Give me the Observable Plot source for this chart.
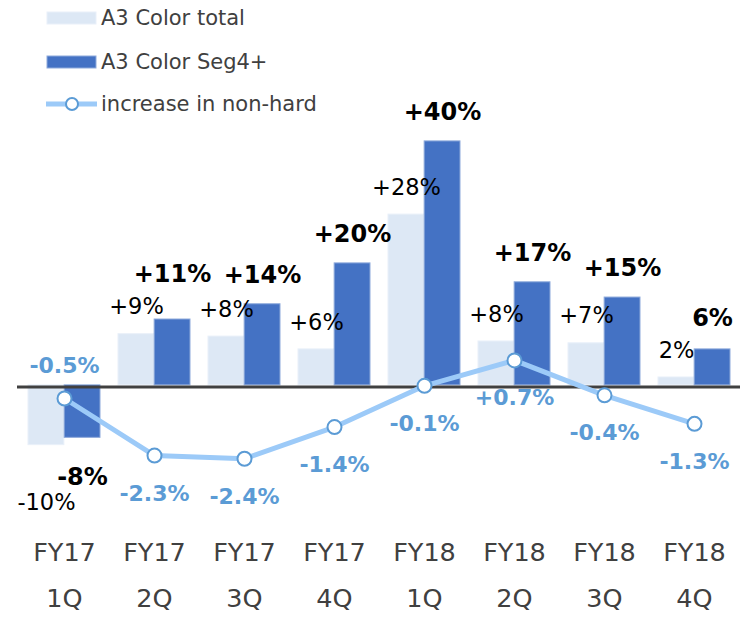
<!DOCTYPE html>
<html>
<head>
<meta charset="utf-8">
<script src="https://cdn.jsdelivr.net/npm/d3@7"></script>
<script src="https://cdn.jsdelivr.net/npm/@observablehq/plot@0.6"></script>
<style>
  body { margin: 0; background: #fff; }
  #wrap { position: relative; width: 756px; height: 617px; }
  #legend { position: absolute; left: 0; top: 0; font-family: "DejaVu Sans", sans-serif; font-size: 21px; color: #404040; }
  .item { position: absolute; left: 44px; height: 24px; display: flex; align-items: center; white-space: nowrap; }
  .item svg { margin-right: 4px; }
</style>
</head>
<body>
<div id="wrap">
  <div id="chart"></div>
  <div id="legend"></div>
</div>
<script>
const categories = ["FY17 1Q", "FY17 2Q", "FY17 3Q", "FY17 4Q", "FY18 1Q", "FY18 2Q", "FY18 3Q", "FY18 4Q"];
const tickLabels = ["FY17\n1Q", "FY17\n2Q", "FY17\n3Q", "FY17\n4Q", "FY18\n1Q", "FY18\n2Q", "FY18\n3Q", "FY18\n4Q"];
// bar heights; printed labels kept separately
const colorTotal = [-9.8, 8.4, 8.0, 5.9, 28.0, 7.2, 6.9, 1.3];
const colorTotalLabels = ["-10%", "+9%", "+8%", "+6%", "+28%", "+8%", "+7%", "2%"];
const seg4 = [-8.6, 10.8, 13.3, 20.0, 40.0, 16.9, 14.4, 5.9];
const seg4Labels = ["-8%", "+11%", "+14%", "+20%", "+40%", "+17%", "+15%", "6%"];
const nonHard = [-0.5, -2.3, -2.4, -1.4, -0.1, 0.7, -0.4, -1.3];
const nonHardLabels = ["-0.5%", "-2.3%", "-2.4%", "-1.4%", "-0.1%", "+0.7%", "-0.4%", "-1.3%"];
const seriesNames = ["A3 Color total", "A3 Color Seg4+", "increase in non-hard"];

const LIGHT = "#dde8f5", DARK = "#4472c4", LINE = "#9ccaf8", DOT = "#5b9bd5";

// secondary axis for the line: map its values onto the bar scale
const lineToBar = d3.scaleLinear().domain([0, 1]).range([0.45, 5.65]);

const rows = categories.map((c, i) => ({
  cat: c, tick: tickLabels[i],
  total: colorTotal[i], totalLabel: colorTotalLabels[i],
  seg: seg4[i], segLabel: seg4Labels[i],
  nh: lineToBar(nonHard[i]), nhLabel: nonHardLabels[i], i
}));

const font = "DejaVu Sans, sans-serif";

const chart = Plot.plot({
  width: 756,
  height: 617,
  marginLeft: 17,
  marginRight: 16,
  marginTop: 0,
  marginBottom: 90,
  style: { background: "transparent", fontFamily: font },
  x: { type: "band", domain: categories, paddingInner: 0.2, paddingOuter: 0.1, axis: null },
  y: { domain: [-23.3, 63.1], axis: null },
  marks: [
    Plot.barY(rows, { x: "cat", y: "total", fill: LIGHT, stroke: "#e9f0f9", strokeWidth: 1, insetRight: 36.15 }),
    Plot.barY(rows, { x: "cat", y: "seg", fill: DARK, stroke: "#8eaadb", strokeWidth: 1, insetLeft: 36.15 }),
    Plot.ruleY([0], { stroke: "#404040", strokeWidth: 3, dy: 1.5 }),
    Plot.line(rows, { x: "cat", y: "nh", stroke: LINE, strokeWidth: 5 }),
    Plot.dot(rows, { x: "cat", y: "nh", r: 7, fill: "white", stroke: DOT, strokeWidth: 2 }),
    // light bar labels
    Plot.text(rows.filter(d => d.total >= 0), { x: "cat", y: "total", text: "totalLabel", dx: -18, dy: -27, fontSize: 22.5, fill: "black" }),
    Plot.text(rows.filter(d => d.total < 0), { x: "cat", y: "total", text: "totalLabel", dx: -18, dy: 58, fontSize: 22.5, fill: "black" }),
    // dark bar labels (lifted above the neighbouring light label when they would collide)
    Plot.text(rows.filter(d => d.seg >= 0), { x: "cat", y: d => Math.max(d.seg, d.total + 5), text: "segLabel", dx: 18, dy: -29, fontSize: 24, fontWeight: "bold", fill: "black" }),
    Plot.text(rows.filter(d => d.seg < 0), { x: "cat", y: "seg", text: "segLabel", dx: 18, dy: 39, fontSize: 24, fontWeight: "bold", fill: "black" }),
    // line labels
    Plot.text(rows.filter(d => d.i === 0), { x: "cat", y: "nh", text: "nhLabel", dy: -33, fontSize: 22, fontWeight: "bold", fill: DOT }),
    Plot.text(rows.filter(d => d.i > 0), { x: "cat", y: "nh", text: "nhLabel", dy: 38, fontSize: 22, fontWeight: "bold", fill: DOT }),
    // category labels
    Plot.text(rows, { x: "cat", text: "tick", frameAnchor: "bottom", lineAnchor: "top", dy: 1, lineHeight: 1.8, fontSize: 25.5, fill: "#404040" })
  ]
});
document.getElementById("chart").append(chart);

// legend
const legend = document.getElementById("legend");
const items = [
  { top: 6, svg: `<svg width="53" height="24"><rect x="3" y="6" width="49" height="12" fill="${LIGHT}" stroke="#e9f0f9"/></svg>` },
  { top: 50, svg: `<svg width="53" height="24"><rect x="3" y="6" width="49" height="12" fill="${DARK}" stroke="#8eaadb"/></svg>` },
  { top: 92, svg: `<svg width="53" height="24"><line x1="2" x2="54" y1="12" y2="12" stroke="${LINE}" stroke-width="5"/><circle cx="28" cy="12" r="6" fill="white" stroke="${DOT}" stroke-width="2"/></svg>` }
];
items.forEach((it, k) => {
  const div = document.createElement("div");
  div.className = "item";
  div.style.top = it.top + "px";
  div.innerHTML = it.svg + `<span>${seriesNames[k]}</span>`;
  legend.append(div);
});
</script>
</body>
</html>
